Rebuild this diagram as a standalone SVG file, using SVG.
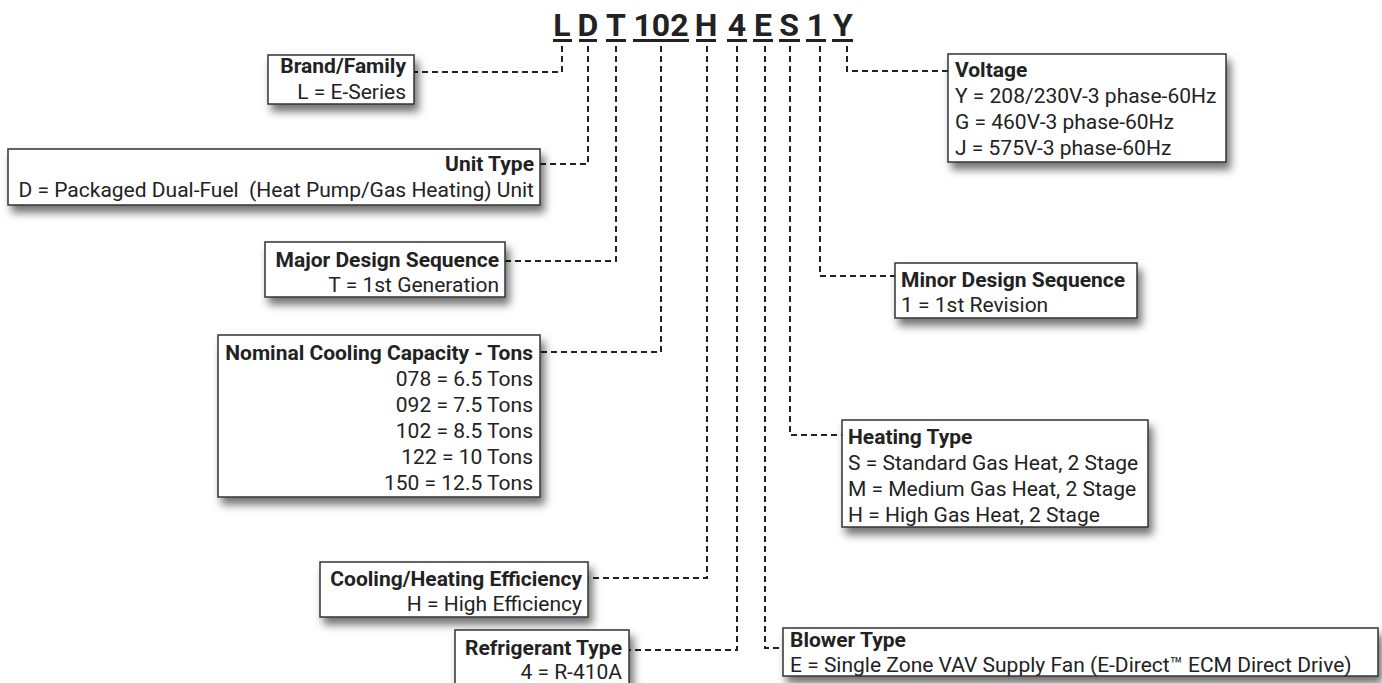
<svg xmlns="http://www.w3.org/2000/svg" width="1382" height="683" viewBox="0 0 1382 683">
<defs>
<filter id="sh" x="-10%" y="-20%" width="130%" height="160%">
<feDropShadow dx="4" dy="7" stdDeviation="4" flood-color="#000" flood-opacity="0.55"/>
</filter>
</defs>
<style>
.box{fill:#fff;stroke:#333;stroke-width:1.5;filter:url(#sh)}
.t{font-family:Roboto,"Liberation Sans",sans-serif;font-size:21px;fill:#222;white-space:pre}
.h{font-weight:bold}
.r{text-anchor:end}
.code{font-family:Roboto,"Liberation Sans",sans-serif;font-size:32px;font-weight:bold;fill:#222;text-anchor:middle}
.ul{fill:#222}
.c{fill:none;stroke:#222;stroke-width:2;stroke-dasharray:6 4}
</style>
<rect width="1382" height="683" fill="#fff"/>
<g id="code">
<text class="code" x="562" y="36">L</text>
<text class="code" x="588" y="36">D</text>
<text class="code" x="616" y="36">T</text>
<text class="code" x="661" y="36">102</text>
<text class="code" x="706" y="36">H</text>
<text class="code" x="737" y="36">4</text>
<text class="code" x="763" y="36">E</text>
<text class="code" x="789" y="36">S</text>
<text class="code" x="816" y="36">1</text>
<text class="code" x="843" y="36">Y</text>
<rect class="ul" x="553" y="39" width="19" height="3"/>
<rect class="ul" x="579" y="39" width="18" height="3"/>
<rect class="ul" x="606" y="39" width="20" height="3"/>
<rect class="ul" x="633" y="39" width="56" height="3"/>
<rect class="ul" x="696" y="39" width="20" height="3"/>
<rect class="ul" x="727" y="39" width="20" height="3"/>
<rect class="ul" x="753" y="39" width="20" height="3"/>
<rect class="ul" x="779" y="39" width="21" height="3"/>
<rect class="ul" x="806" y="39" width="20" height="3"/>
<rect class="ul" x="832" y="39" width="21" height="3"/>
</g>
<g id="connectors">
<polyline class="c" points="562,46 562,72 414,72"/>
<polyline class="c" points="588,46 588,164 540,164"/>
<polyline class="c" points="616,46 616,261 505,261"/>
<polyline class="c" points="661,46 661,352 540,352"/>
<polyline class="c" points="707,46 707,578 588,578"/>
<polyline class="c" points="737,46 737,650 629,650"/>
<polyline class="c" points="765,46 765,648 783,648"/>
<polyline class="c" points="790,46 790,435 842,435"/>
<polyline class="c" points="820,46 820,276 895,276"/>
<polyline class="c" points="847,46 847,71 948,71"/>
</g>
<g id="brand">
<rect class="box" x="268" y="55" width="146" height="49"/>
<text class="t h r" x="406" y="73">Brand/Family</text>
<text class="t r" x="406" y="99">L = E-Series</text>
</g>
<g id="unittype">
<rect class="box" x="8" y="149" width="532" height="56"/>
<text class="t h r" x="534" y="171">Unit Type</text>
<text class="t r" x="534" y="197">D = Packaged Dual-Fuel  (Heat Pump/Gas Heating) Unit</text>
</g>
<g id="major">
<rect class="box" x="265" y="242" width="240" height="55"/>
<text class="t h r" x="499" y="267">Major Design Sequence</text>
<text class="t r" x="499" y="292">T = 1st Generation</text>
</g>
<g id="capacity">
<rect class="box" x="218" y="335" width="322" height="162"/>
<text class="t h r" x="533" y="360">Nominal Cooling Capacity - Tons</text>
<text class="t r" x="533" y="386">078 = 6.5 Tons</text>
<text class="t r" x="533" y="412">092 = 7.5 Tons</text>
<text class="t r" x="533" y="438">102 = 8.5 Tons</text>
<text class="t r" x="533" y="464">122 = 10 Tons</text>
<text class="t r" x="533" y="490">150 = 12.5 Tons</text>
</g>
<g id="efficiency">
<rect class="box" x="320" y="562" width="268" height="55"/>
<text class="t h r" x="582" y="586">Cooling/Heating Efficiency</text>
<text class="t r" x="582" y="611">H = High Efficiency</text>
</g>
<g id="refrigerant">
<rect class="box" x="455" y="630" width="174" height="60"/>
<text class="t h r" x="622" y="655">Refrigerant Type</text>
<text class="t r" x="622" y="679">4 = R-410A</text>
</g>
<g id="voltage">
<rect class="box" x="948" y="54" width="278" height="108"/>
<text class="t h" x="955" y="77">Voltage</text>
<text class="t" x="955" y="103">Y = 208/230V-3 phase-60Hz</text>
<text class="t" x="955" y="129">G = 460V-3 phase-60Hz</text>
<text class="t" x="955" y="155">J = 575V-3 phase-60Hz</text>
</g>
<g id="minor">
<rect class="box" x="895" y="263" width="242" height="55"/>
<text class="t h" x="901" y="287">Minor Design Sequence</text>
<text class="t" x="901" y="312">1 = 1st Revision</text>
</g>
<g id="heating">
<rect class="box" x="842" y="420" width="306" height="107"/>
<text class="t h" x="848" y="444">Heating Type</text>
<text class="t" x="848" y="470">S = Standard Gas Heat, 2 Stage</text>
<text class="t" x="848" y="496">M = Medium Gas Heat, 2 Stage</text>
<text class="t" x="848" y="522">H = High Gas Heat, 2 Stage</text>
</g>
<g id="blower">
<rect class="box" x="783" y="628" width="595" height="48"/>
<text class="t h" x="790" y="647">Blower Type</text>
<text class="t" x="790" y="672">E = Single Zone VAV Supply Fan (E-Direct™ ECM Direct Drive)</text>
</g>
</svg>
